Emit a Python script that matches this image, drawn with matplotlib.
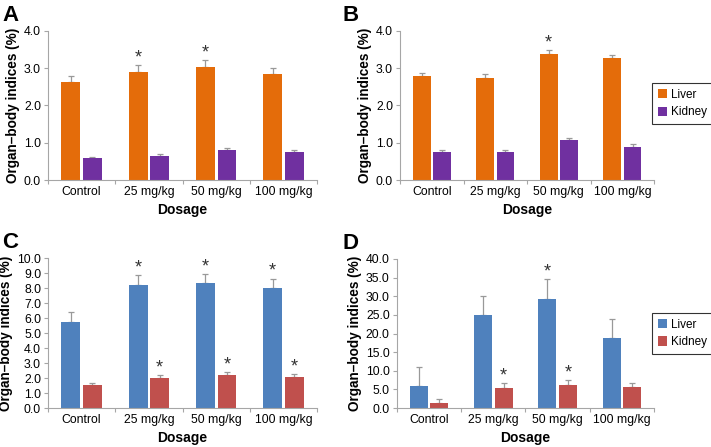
import numpy as np
import matplotlib
matplotlib.use('Agg')
from matplotlib import pyplot as plt

plt.rcParams['font.family'] = ['Liberation Sans', 'DejaVu Sans']

dosage = ['Control', '25 mg/kg', '50 mg/kg', '100 mg/kg']

# panel A
a_liver = [2.62, 2.90, 3.03, 2.84]
a_liver_err = [0.17, 0.18, 0.18, 0.17]
a_kidney = [0.58, 0.66, 0.82, 0.76]
a_kidney_err = [0.04, 0.04, 0.03, 0.04]
a_liver_sig = [False, True, True, False]
a_kidney_sig = [False, False, False, False]

# panel B
b_liver = [2.78, 2.74, 3.38, 3.26]
b_liver_err = [0.10, 0.10, 0.11, 0.10]
b_kidney = [0.75, 0.75, 1.07, 0.90]
b_kidney_err = [0.05, 0.05, 0.07, 0.07]
b_liver_sig = [False, False, True, False]
b_kidney_sig = [False, False, False, False]

# panel C
c_liver = [5.75, 8.20, 8.33, 8.03]
c_liver_err = [0.63, 0.64, 0.62, 0.60]
c_kidney = [1.53, 2.00, 2.22, 2.07]
c_kidney_err = [0.16, 0.20, 0.20, 0.18]
c_liver_sig = [False, True, True, True]
c_kidney_sig = [False, True, True, True]

# panel D
d_liver = [6.0, 25.0, 29.3, 18.7]
d_liver_err = [5.1, 5.2, 5.3, 5.2]
d_kidney = [1.35, 5.5, 6.1, 5.6]
d_kidney_err = [1.15, 1.2, 1.4, 1.2]
d_liver_sig = [False, False, True, False]
d_kidney_sig = [False, True, True, False]

orange = '#E46C0A'
purple = '#7030A0'
blue = '#4F81BD'
red = '#C0504D'
axcol = '#A6A6A6'

fig = plt.figure(figsize=(7.11, 4.47), dpi=100)

panels = [
    ('A', [0.0675, 0.597, 0.3785, 0.334], a_liver, a_liver_err, a_kidney, a_kidney_err,
     a_liver_sig, a_kidney_sig, orange, purple, 4, 1),
    ('B', [0.5626, 0.597, 0.3574, 0.334], b_liver, b_liver_err, b_kidney, b_kidney_err,
     b_liver_sig, b_kidney_sig, orange, purple, 4, 1),
    ('C', [0.0675, 0.0872, 0.3785, 0.3356], c_liver, c_liver_err, c_kidney, c_kidney_err,
     c_liver_sig, c_kidney_sig, blue, red, 10, 1),
    ('D', [0.558, 0.0872, 0.362, 0.3334], d_liver, d_liver_err, d_kidney, d_kidney_err,
     d_liver_sig, d_kidney_sig, blue, red, 40, 5),
]

x = np.arange(len(dosage))
w = 0.28
for letter, rect, liv, liv_e, kid, kid_e, liv_s, kid_s, c1, c2, ymax, step in panels:
    ax = fig.add_axes(rect)
    b1 = ax.bar(x - 0.16, liv, w, color=c1, label='Liver', zorder=2)
    b2 = ax.bar(x + 0.16, kid, w, color=c2, label='Kidney', zorder=2)
    ax.errorbar(x - 0.16, liv, yerr=[np.zeros(4), liv_e], fmt='none', ecolor='#999999',
                elinewidth=0.9, capsize=2, capthick=0.9, zorder=1)
    ax.errorbar(x + 0.16, kid, yerr=[np.zeros(4), kid_e], fmt='none', ecolor='#999999',
                elinewidth=0.9, capsize=2, capthick=0.9, zorder=1)
    for i in range(4):
        if liv_s[i]:
            ax.annotate('*', (x[i] - 0.16, liv[i] + liv_e[i]), xytext=(0, -1),
                        textcoords='offset points', ha='center', va='bottom',
                        fontsize=13, color='#333333')
        if kid_s[i]:
            ax.annotate('*', (x[i] + 0.16, kid[i] + kid_e[i]), xytext=(0, -1),
                        textcoords='offset points', ha='center', va='bottom',
                        fontsize=13, color='#333333')

    ax.set_xlim(-0.5, 3.5)
    ax.set_ylim(0, ymax)
    ax.set_yticks(np.arange(0, ymax + step / 2, step))
    ax.set_yticklabels(['%.1f' % v for v in np.arange(0, ymax + step / 2, step)], fontsize=8.8)
    ax.set_xticks(x)
    ax.set_xticklabels(dosage, fontsize=8.8)
    ax.set_xticks(np.arange(-0.5, 4, 1), minor=True)
    ax.tick_params(axis='x', which='major', length=0, pad=4)
    ax.tick_params(axis='x', which='minor', length=3, color=axcol, width=0.8)
    ax.tick_params(axis='y', length=3, color=axcol, width=0.8, pad=2)
    for s in ['top', 'right']:
        ax.spines[s].set_visible(False)
    for s in ['left', 'bottom']:
        ax.spines[s].set_color(axcol)
        ax.spines[s].set_linewidth(0.8)
    ax.set_xlabel('Dosage', fontsize=10, fontweight='bold', labelpad=4)
    ax.set_ylabel('Organ\u2013body indices (%)', fontsize=9.8, fontweight='bold', labelpad=3)

    pos = ax.get_position()
    if letter in ['A', 'C']:
        fig.text(0.003, pos.y1 + 0.058, letter, fontsize=16, fontweight='bold', va='top')
    else:
        fig.text(0.482, pos.y1 + 0.058, letter, fontsize=16, fontweight='bold', va='top')

    if letter in ['B', 'D']:
        top = 0.814 if letter == 'B' else 0.30
        leg = fig.legend(handles=[b1, b2], loc='upper left', bbox_to_anchor=(0.917, top),
                         fontsize=8.5, frameon=True, fancybox=False, handlelength=0.8,
                         handleheight=0.8, handletextpad=0.35, borderpad=0.5,
                         labelspacing=0.45, borderaxespad=0)
        leg.get_frame().set_edgecolor('black')
        leg.get_frame().set_linewidth(0.8)

fig.savefig('out.png', dpi=100)
